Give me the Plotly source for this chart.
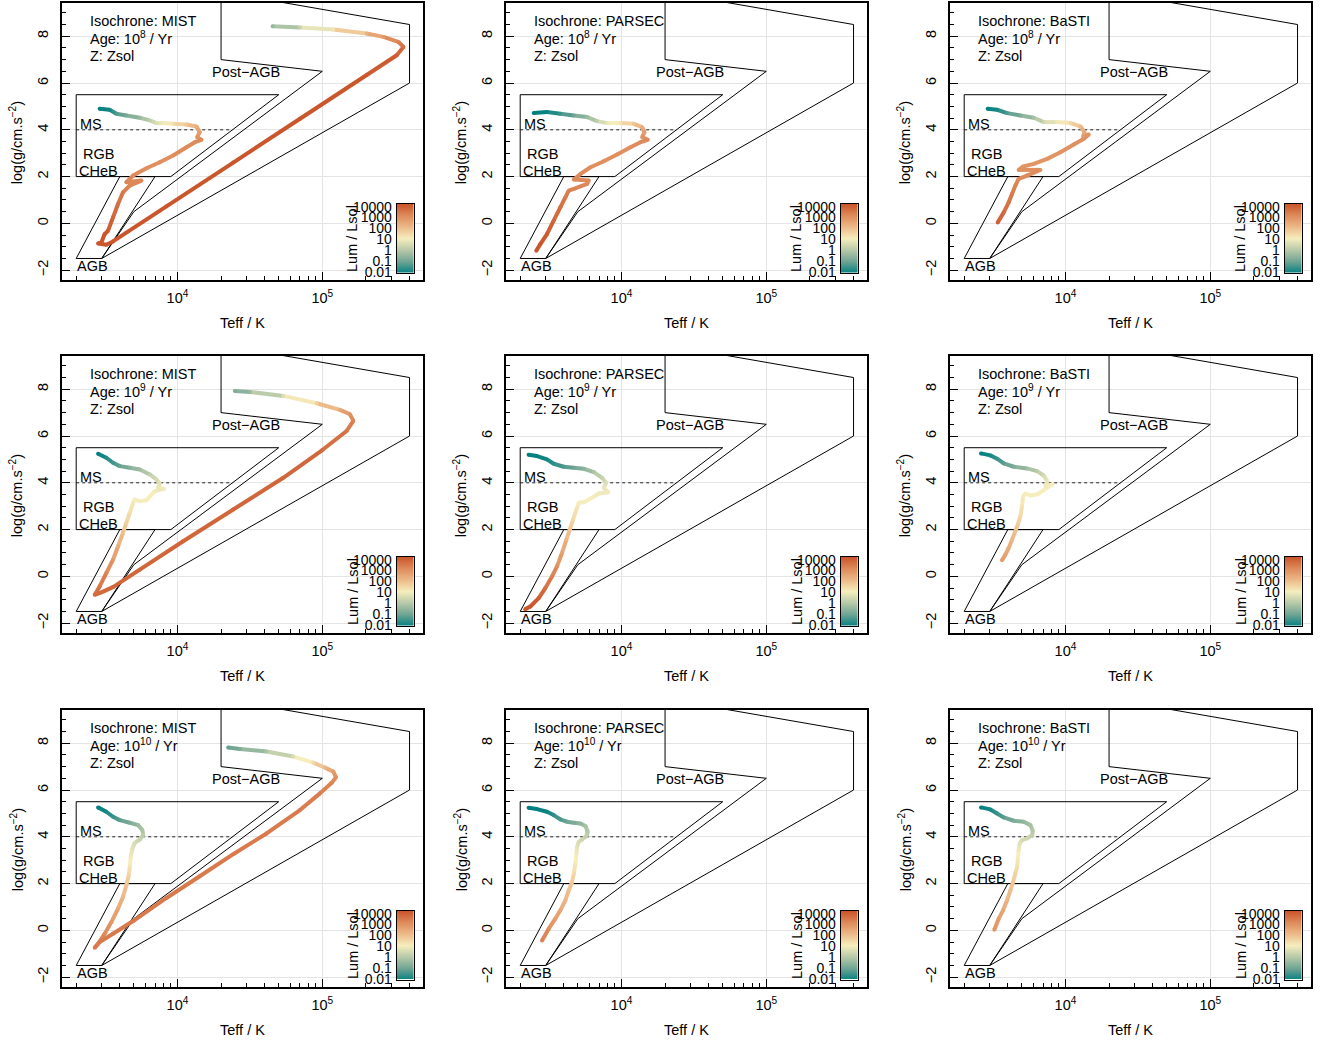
import numpy as np
import plotly.graph_objects as go
from plotly.colors import sample_colorscale

W, H = 1326, 1044
FONT = "Liberation Sans, Arial, sans-serif"

isochrones = ["MIST", "PARSEC", "BaSTI"]
age_exponents = [8, 9, 10]

# ---------------- isochrone tracks (Teff / K, log g, log10 Lum/Lsol) ----------------
mist_8_teff = [2904, 3404, 3785, 4436, 5495, 6445, 7161, 7958, 9333, 11540, 13520, 14260, 13670, 14650,
               13180, 11540, 9333, 7550, 6109, 4943, 4436, 5640, 4677, 4207, 3890, 3591, 3318, 3145, 2985,
               2833, 3228, 3591, 8395, 24270, 70170, 202400, 326400, 363200, 335000, 264000, 202400,
               119100, 70170, 45400]
mist_8_logg = [4.90, 4.857, 4.686, 4.614, 4.514, 4.40, 4.286, 4.286, 4.257, 4.229, 4.143, 3.90, 3.686, 3.571,
               3.471, 3.257, 2.90, 2.614, 2.357, 2.043, 1.757, 1.83, 1.614, 1.329, 0.829, 0.257, -0.314,
               -0.457, -0.814, -0.857, -0.914, -0.771, 0.729, 2.60, 4.471, 6.343, 7.186, 7.543, 7.757,
               7.971, 8.114, 8.286, 8.371, 8.429]
mist_8_lum = [-2.0, -1.8, -1.3, -0.9, -0.4, 0.2, 0.6, 0.9, 1.3, 1.8, 2.3, 2.6, 2.8, 3.0,
              3.0, 3.0, 2.9, 2.9, 2.9, 3.0, 3.1, 3.0, 3.1, 3.3, 3.5, 3.7, 3.9, 4.0, 4.0,
              4.0, 4.0, 4.0, 4.0, 4.0, 4.0, 4.0, 3.8, 3.5, 3.2, 2.7, 2.2, 1.2, 0.3, -0.5]

parsec_8_teff = [2477, 3062, 3785, 4688, 5794, 6792, 7958, 9843, 12170, 13900, 14420, 13900, 15200, 13520,
                 11540, 9333, 7550, 6109, 5212, 4688, 5943, 5794, 4688, 4325, 4102, 3785, 3404, 3062,
                 2754, 2582]
parsec_8_logg = [4.714, 4.757, 4.686, 4.614, 4.543, 4.371, 4.286, 4.286, 4.257, 4.114, 3.90, 3.686, 3.571,
                 3.471, 3.257, 2.943, 2.657, 2.40, 2.114, 1.871, 1.829, 1.686, 1.471, 1.40, 1.114, 0.686,
                 0.114, -0.457, -0.886, -1.171]
parsec_8_lum = [-2.0, -1.9, -1.5, -1.0, -0.4, 0.2, 0.8, 1.2, 1.8, 2.3, 2.6, 2.8, 3.0, 3.0,
                2.9, 2.9, 2.9, 2.9, 3.0, 3.0, 3.0, 3.0, 3.1, 3.2, 3.3, 3.5, 3.7, 3.9, 4.0, 4.0]

basti_8_teff = [2904, 3373, 3954, 4887, 6041, 7079, 8754, 10830, 12700, 13530, 13250, 14490, 13390, 11420,
                9232, 7470, 6041, 5093, 4753, 6714, 5432, 4753, 4508, 4277, 4057, 3750, 3408]
basti_8_logg = [4.90, 4.857, 4.714, 4.614, 4.514, 4.329, 4.329, 4.286, 4.143, 3.90, 3.714, 3.80, 3.614,
                3.371, 3.043, 2.757, 2.543, 2.429, 2.286, 2.286, 2.043, 1.90, 1.614, 1.257, 0.90, 0.471,
                0.043]
basti_8_lum = [-2.0, -1.8, -1.3, -0.8, -0.2, 0.4, 0.9, 1.4, 2.0, 2.4, 2.6, 2.8, 2.9, 2.9,
               2.8, 2.8, 2.8, 2.8, 2.9, 2.9, 3.0, 3.0, 3.1, 3.3, 3.4, 3.6, 3.8]

mist_9_teff = [2831, 3228, 3591, 3991, 4686, 5495, 6445, 7161, 7550, 7347, 8060, 6969, 6798, 6109, 5495,
               5072, 4943, 4686, 4436, 4207, 3890, 3591, 3228, 2904, 2683, 2904, 3591, 5495, 10950, 24260,
               53770, 100000, 147200, 163700, 155200, 132400, 91400, 53770, 31620, 24890]
mist_9_logg = [5.243, 5.071, 4.857, 4.714, 4.643, 4.571, 4.357, 4.143, 3.971, 3.786, 3.743, 3.643, 3.571,
               3.257, 3.214, 3.286, 3.143, 2.714, 2.286, 1.857, 1.286, 0.714, 0.143, -0.429, -0.786,
               -0.714, -0.457, 0.286, 1.50, 2.857, 4.214, 5.40, 6.214, 6.643, 6.929, 7.114, 7.40, 7.714,
               7.886, 7.929]
mist_9_lum = [-2.0, -1.7, -1.4, -1.1, -0.7, -0.3, 0.2, 0.5, 0.7, 0.8, 0.9, 0.9, 1.0, 1.0, 1.0,
              1.0, 1.1, 1.3, 1.6, 1.9, 2.3, 2.7, 3.1, 3.4, 3.6, 3.6, 3.7, 3.7, 3.7, 3.7,
              3.7, 3.6, 3.4, 3.1, 2.8, 2.4, 1.6, 0.6, -0.4, -0.8]

parsec_9_teff = [2285, 2610, 3062, 3404, 3991, 4688, 5495, 6445, 7347, 7835, 7550, 8093, 6968, 6267, 5495,
                 5072, 4888, 4636, 4394, 4168, 3890, 3591, 3318, 2985, 2683, 2350, 2167]
parsec_9_logg = [5.20, 5.143, 5.0, 4.814, 4.686, 4.643, 4.60, 4.457, 4.214, 4.0, 3.786, 3.60, 3.543, 3.357,
                 3.171, 3.143, 2.857, 2.429, 2.0, 1.571, 1.0, 0.429, 0.0, -0.50, -0.929, -1.286, -1.40]
parsec_9_lum = [-2.0, -2.0, -1.8, -1.6, -1.3, -1.0, -0.6, -0.1, 0.3, 0.6, 0.8, 0.9, 0.9, 1.0, 1.0,
                1.0, 1.2, 1.4, 1.8, 2.1, 2.5, 2.9, 3.2, 3.5, 3.8, 4.0, 4.0]

basti_9_teff = [2612, 3033, 3373, 3750, 4397, 5432, 6370, 7079, 7470, 7274, 8093, 7079, 6370, 5727, 5294,
                5097, 5013, 4887, 4688, 4508, 4277, 4057, 3846, 3648]
basti_9_logg = [5.257, 5.171, 5.029, 4.829, 4.686, 4.614, 4.50, 4.314, 4.071, 3.857, 3.929, 3.686, 3.50,
                3.457, 3.543, 3.429, 3.0, 2.571, 2.214, 1.929, 1.571, 1.214, 0.929, 0.686]
basti_9_lum = [-2.0, -1.8, -1.5, -1.2, -0.8, -0.3, 0.1, 0.5, 0.8, 0.9, 1.0, 1.0, 1.0, 1.0, 1.0,
               1.0, 1.2, 1.4, 1.7, 1.9, 2.1, 2.3, 2.5, 2.6]

mist_10_teff = [2831, 3228, 3591, 3991, 4686, 5346, 5727, 5794, 5495, 5072, 4888, 4756, 4686, 4613, 4436,
                4207, 3890, 3497, 3148, 2831, 2683, 2904, 3591, 4943, 8395, 14260, 24260, 41210, 70170,
                96330, 116200, 124300, 119100, 104200, 86640, 63100, 41210, 26980, 22390]
mist_10_logg = [5.257, 5.071, 4.857, 4.714, 4.60, 4.50, 4.286, 4.071, 3.886, 3.743, 3.50, 3.143, 2.714,
                2.357, 1.929, 1.429, 0.929, 0.357, -0.143, -0.571, -0.743, -0.50, -0.143, 0.40, 1.386,
                2.314, 3.257, 4.143, 5.143, 5.857, 6.314, 6.543, 6.786, 6.957, 7.171, 7.429, 7.643,
                7.757, 7.814]
mist_10_lum = [-2.0, -1.8, -1.5, -1.2, -0.8, -0.4, -0.1, 0.1, 0.3, 0.5, 0.7, 0.9, 1.2, 1.5, 1.8,
               2.1, 2.4, 2.7, 3.0, 3.2, 3.3, 3.3, 3.3, 3.3, 3.3, 3.3, 3.3, 3.3, 3.3,
               3.2, 3.1, 2.9, 2.6, 2.1, 1.4, 0.6, -0.1, -0.8, -1.1]

parsec_10_teff = [2285, 2610, 3062, 3404, 3785, 4207, 4688, 5212, 5640, 5849, 5727, 5346, 5072, 4943, 4888,
                  4810, 4688, 4564, 4325, 4102, 3785, 3497, 3148, 2831]
parsec_10_logg = [5.243, 5.186, 5.071, 4.929, 4.743, 4.643, 4.60, 4.571, 4.457, 4.214, 4.029, 3.886, 3.786,
                  3.571, 3.286, 2.857, 2.429, 2.071, 1.714, 1.286, 0.857, 0.50, 0.071, -0.429]
parsec_10_lum = [-2.0, -2.0, -1.9, -1.6, -1.3, -1.0, -0.8, -0.5, -0.2, 0.0, 0.2, 0.4, 0.5, 0.7, 0.9,
                 1.1, 1.4, 1.7, 1.9, 2.1, 2.4, 2.6, 2.9, 3.2]

basti_10_teff = [2612, 3033, 3373, 3750, 4397, 5150, 5727, 5944, 5889, 5432, 5013, 4832, 4753, 4688, 4636,
                 4508, 4347, 4168, 3954, 3709, 3459, 3228]
basti_10_logg = [5.257, 5.171, 5.0, 4.829, 4.686, 4.643, 4.50, 4.257, 4.071, 3.929, 3.857, 3.714, 3.429,
                 3.0, 2.714, 2.429, 2.071, 1.714, 1.286, 0.857, 0.50, 0.029]
basti_10_lum = [-2.0, -1.8, -1.5, -1.2, -0.8, -0.5, -0.2, 0.0, 0.2, 0.4, 0.5, 0.7, 0.9, 1.1, 1.3,
                1.5, 1.7, 1.9, 2.1, 2.4, 2.6, 2.8]

# ---------------- evolutionary-phase regions ----------------
ms_box_teff = [2000, 50000, 9000, 2000, 2000]
ms_box_logg = [5.5, 5.5, 2.0, 2.0, 5.5]
ms_split_teff = [2000, 24000]
ms_split_logg = [4.0, 4.0]
agb_box_teff = [2000, 4000, 7000, 3000, 2000]
agb_box_logg = [-1.5, 2.0, 2.0, -1.5, -1.5]
postagb_teff = [3000, 5000, 100000, 20000, 20000, 400000, 400000, 3000]
postagb_logg = [-1.5, 0.5, 6.5, 7.0, 9.9, 8.5, 6.0, -1.5]

# region labels: (text, Teff, logg, anchor)
region_labels = [("Post\u2212AGB", 29700, 6.47, "center"), ("MS", 2070, 4.26, "left"),
                 ("RGB", 2148, 2.97, "left"), ("CHeB", 2030, 2.26, "left"), ("AGB", 1965, -1.82, "left")]

# colour bar
lum_tick_values = [-2, -1, 0, 1, 2, 3, 4]
lum_tick_text = ["0.01", "0.1", "1", "10", "100", "1000", "10000"]
lum_label_pos = [-1.95, -1.0, -0.05, 0.91, 1.86, 2.81, 3.76]

x_major = [1e4, 1e5]
x_major_text = ["10<sup>4</sup>", "10<sup>5</sup>"]
x_minor = [2000, 3000, 4000, 5000, 6000, 7000, 8000, 9000, 20000, 30000, 40000, 50000, 60000,
           70000, 80000, 90000, 200000, 300000, 400000]
y_major = [-2, 0, 2, 4, 6, 8]
y_minor = [v / 2 for v in range(-4, 19)]

geyser = [[0.0, "#008080"], [1 / 6, "#70A494"], [2 / 6, "#B4C8A8"], [0.5, "#F6EDBD"],
          [4 / 6, "#EDBB8A"], [5 / 6, "#DE8A5A"], [1.0, "#CA562C"]]

tracks = {
    (0, 0): (mist_8_teff, mist_8_logg, mist_8_lum),
    (0, 1): (parsec_8_teff, parsec_8_logg, parsec_8_lum),
    (0, 2): (basti_8_teff, basti_8_logg, basti_8_lum),
    (1, 0): (mist_9_teff, mist_9_logg, mist_9_lum),
    (1, 1): (parsec_9_teff, parsec_9_logg, parsec_9_lum),
    (1, 2): (basti_9_teff, basti_9_logg, basti_9_lum),
    (2, 0): (mist_10_teff, mist_10_logg, mist_10_lum),
    (2, 1): (parsec_10_teff, parsec_10_logg, parsec_10_lum),
    (2, 2): (basti_10_teff, basti_10_logg, basti_10_lum),
}

col_left = [62, 506, 950]
row_top = [3, 356, 710]
PW, PH = 361, 277

fig = go.Figure()
layout = dict(width=W, height=H, autosize=False,
              margin=dict(l=0, r=0, t=0, b=0, pad=0, autoexpand=False), paper_bgcolor="white",
              plot_bgcolor="white", showlegend=False, font=dict(family=FONT, size=14.5, color="black"))
annotations = []


def px_x(v):
    return v / W


def px_y(v):
    return 1 - v / H


for r in range(3):
    for c in range(3):
        k = r * 3 + c + 1
        kb = k + 9
        L, T = col_left[c], row_top[r]
        xa, ya = f"x{k}", f"y{k}"
        sfx = "" if k == 1 else str(k)
        layout[f"xaxis{sfx}"] = dict(
            domain=[px_x(L), px_x(L + PW)], anchor=ya, type="log", range=[3.203, 5.695],
            tickvals=x_major, ticktext=x_major_text, ticks="inside", ticklen=8, tickcolor="black",
            minor=dict(tickvals=x_minor, ticks="inside", ticklen=4, tickcolor="black", showgrid=False),
            showgrid=True, gridcolor="#e4e4e4", gridwidth=1, showline=True, linecolor="black",
            linewidth=2, mirror=True, zeroline=False, tickfont=dict(size=14.5, color="black"),
            ticklabelstandoff=4, automargin=False, fixedrange=True)
        layout[f"yaxis{sfx}"] = dict(
            domain=[px_y(T + PH), px_y(T)], anchor=xa, range=[-2.42, 9.42],
            tickvals=y_major, ticks="inside", ticklen=8, tickcolor="black", tickangle=-90,
            minor=dict(tickvals=y_minor, ticks="inside", ticklen=4, tickcolor="black", showgrid=False),
            showgrid=True, gridcolor="#e4e4e4", gridwidth=1, showline=True, linecolor="black",
            linewidth=2, mirror=True, zeroline=False, tickfont=dict(size=14.5, color="black"),
            ticklabelstandoff=6, automargin=False, fixedrange=True)

        # region outlines
        for tx, ty in [(ms_box_teff, ms_box_logg), (agb_box_teff, agb_box_logg),
                       (postagb_teff, postagb_logg)]:
            fig.add_trace(go.Scatter(x=tx, y=ty, mode="lines", line=dict(color="black", width=1),
                                     hoverinfo="skip", xaxis=xa, yaxis=ya))
        fig.add_trace(go.Scatter(x=ms_split_teff, y=ms_split_logg, mode="lines",
                                 line=dict(color="#222222", width=1, dash="dot"),
                                 hoverinfo="skip", xaxis=xa, yaxis=ya))

        # track, coloured by luminosity
        te, lg, lu = tracks[(r, c)]
        for i in range(len(te) - 1):
            frac = ((lu[i] + lu[i + 1]) / 2 + 2) / 6
            col = sample_colorscale(geyser, [min(max(frac, 0), 1)])[0]
            fig.add_trace(go.Scatter(x=[te[i], te[i + 1]], y=[lg[i], lg[i + 1]], mode="lines",
                                     line=dict(color=col, width=4), hoverinfo="skip",
                                     xaxis=xa, yaxis=ya))
        fig.add_trace(go.Scatter(x=te, y=lg, mode="markers",
                                 marker=dict(size=4, color=lu, colorscale=geyser, cmin=-2, cmax=4),
                                 hoverinfo="skip", xaxis=xa, yaxis=ya))

        # text
        for txt, tt, gg, anc in region_labels:
            annotations.append(dict(text=txt, x=np.log10(tt), y=gg, xref=xa, yref=ya, xanchor=anc,
                                    yanchor="middle", showarrow=False, font=dict(size=14.5)))
        info = [f"Isochrone: {isochrones[c]}", f"Age: 10<sup>{age_exponents[r]}</sup> / Yr", "Z: Zsol"]
        for j, (txt, gg) in enumerate(zip(info, [8.64, 7.93, 7.16])):
            annotations.append(dict(text=txt, x=np.log10(2410), y=gg, xref=xa, yref=ya, xanchor="left",
                                    yanchor="middle", showarrow=False, font=dict(size=14.5)))

        # axis titles
        annotations.append(dict(text="Teff / K", x=px_x(L + 180.5), y=px_y(T + 320), xref="paper",
                                yref="paper", xanchor="center", yanchor="middle", showarrow=False,
                                font=dict(size=14.5)))
        annotations.append(dict(text="log(g/cm.s<sup>\u22122</sup>)", x=px_x(L - 45.3),
                                y=px_y(T + 139.5), xref="paper", yref="paper", xanchor="center",
                                yanchor="middle", textangle=-90, showarrow=False,
                                font=dict(size=14.5)))

        # colour bar
        xb, yb = f"x{kb}", f"y{kb}"
        layout[f"xaxis{kb}"] = dict(domain=[px_x(L + 334.7), px_x(L + 351.8)], anchor=yb, range=[0, 1],
                                    showticklabels=False, ticks="", showgrid=False, zeroline=False,
                                    showline=True, mirror=True, linecolor="black", linewidth=1,
                                    automargin=False, fixedrange=True)
        layout[f"yaxis{kb}"] = dict(domain=[px_y(T + 269.5), px_y(T + 201)], anchor=xb, range=[-2, 4],
                                    side="left", tickvals=lum_label_pos, ticktext=lum_tick_text,
                                    ticks="", showgrid=False, zeroline=False, showline=True,
                                    mirror=True, linecolor="black", linewidth=1,
                                    tickfont=dict(size=14, color="black"), ticklabelstandoff=1,
                                    automargin=False, fixedrange=True)
        fig.add_trace(go.Heatmap(x=[0, 1], y=lum_tick_values, z=[[v, v] for v in lum_tick_values],
                                 colorscale=geyser, zmin=-2, zmax=4, zsmooth="best", showscale=False,
                                 hoverinfo="skip", xaxis=xb, yaxis=yb))
        annotations.append(dict(text="Lum / Lsol", x=px_x(L + 290.5), y=px_y(T + 235.5), xref="paper",
                                yref="paper", xanchor="center", yanchor="middle", textangle=-90,
                                showarrow=False, font=dict(size=14.5)))

layout["annotations"] = annotations
fig.update_layout(**layout)
fig.write_html("out.html", config={"displayModeBar": False},
               post_script="document.body.style.margin='0px';document.body.style.overflow='hidden';")
